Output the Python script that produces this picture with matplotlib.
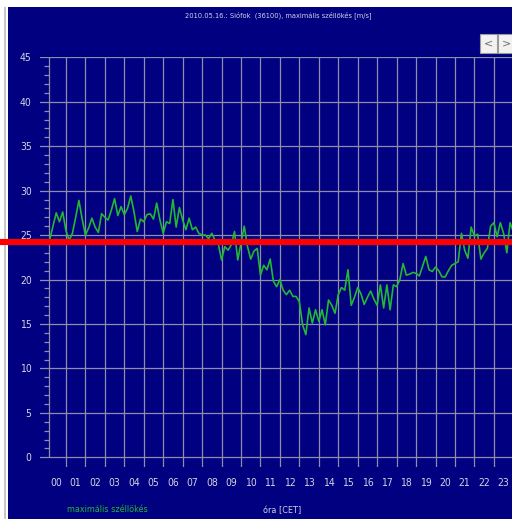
import matplotlib.pyplot as plt
from matplotlib.patches import Rectangle

# 10-minute maximum wind gust values [m/s], 00:10 .. 24:00 CET
gust = [
    24.5, 26.0, 27.5, 26.5, 27.6, 25.5, 24.4, 25.2, 27.0, 28.9, 26.8, 25.0,
    25.8, 26.9, 25.9, 25.3, 27.4, 27.0, 26.7, 27.8, 29.1, 27.2, 28.2, 27.3,
    28.0, 29.4, 27.6, 25.4, 26.8, 26.5, 27.3, 27.4, 26.8, 28.6, 26.7, 25.2,
    26.5, 26.3, 29.0, 25.9, 28.1, 26.7, 25.6, 26.9, 25.6, 25.9, 25.2, 25.0,
    25.0, 24.6, 25.2, 24.4, 24.0, 22.2, 23.7, 23.3, 23.9, 25.4, 22.2, 24.1,
    26.0, 23.7, 22.3, 23.2, 23.5, 20.5, 21.6, 21.1, 22.3, 19.8, 19.2, 20.0,
    18.8, 18.3, 18.8, 18.1, 18.1, 17.5, 14.9, 13.8, 16.8, 15.1, 16.6, 15.3,
    16.6, 14.9, 17.7, 17.1, 16.2, 18.3, 19.1, 18.8, 21.1, 17.1, 18.0, 19.1,
    18.4, 17.2, 18.0, 18.7, 17.8, 17.1, 19.4, 16.8, 19.4, 16.6, 19.4, 19.2,
    20.0, 21.8, 20.5, 20.6, 20.8, 20.7, 20.4, 21.5, 22.6, 21.1, 20.9, 21.4,
    21.0, 20.3, 20.3, 21.0, 21.6, 21.8, 22.0, 25.2, 23.3, 22.4, 25.9, 24.9,
    25.1, 22.3, 23.0, 23.5, 26.0, 26.4, 24.8, 26.4, 25.2, 23.0, 26.4, 25.4,
]
times = [(k + 1) / 6 for k in range(len(gust))]
hours = list(range(24))
hour_labels = [f"{h:02d}" for h in hours]
y_ticks = list(range(0, 50, 5))
threshold = 24.2

title = "2010.05.16.: Siófok  (36100), maximális széllökés [m/s]"
series_name = "maximális széllökés"
x_title = "óra [CET]"

BG = "#000080"
GRID = "#8e8eaa"
TXT = "#d4d4e4"
GREEN = "#22b832"
FONT = dict(family=["Liberation Sans Narrow", "DejaVu Sans"], stretch="condensed")

W, H = 512, 519
fig = plt.figure(figsize=(W / 100, H / 100), dpi=100, facecolor="white")

# navy panel behind everything, white strip on top and left
fig.add_artist(Rectangle((8 / W, 0), 1, 1 - 7 / H, transform=fig.transFigure,
                         facecolor=BG, edgecolor="none", zorder=0))
fig.add_artist(Rectangle((4 / W, 0), 1.5 / W, 1 - 7 / H, transform=fig.transFigure,
                         facecolor="#c8c8c8", edgecolor="none", zorder=0))

ax = fig.add_axes([40 / W, (H - 467) / H, 472 / W, (467 - 57.3) / H])
ax.set_facecolor("none")
for s in ax.spines.values():
    s.set_visible(False)
ax.set_xlim(-0.334, 23.933)
ax.set_ylim(-1.09, 45)

# grid: horizontal every 5 m/s, vertical at hour boundaries
for v in y_ticks:
    ax.axhline(v, color=GRID, lw=0.9, zorder=1)
ax.vlines(hours[1:] + [24], -1.09, 45, color=GRID, lw=0.9, zorder=1)

# y axis with 1 m/s minor ticks
ax.vlines(0.13, 0, 45, color=GRID, lw=0.9, zorder=1)
minor = [v for v in range(1, 45) if v % 5]
ax.hlines(minor, -0.13, 0.13, color=GRID, lw=0.9, zorder=1)

ax.plot(times, gust, color=GREEN, lw=1.2, zorder=3)
ax.axhline(threshold, xmin=-0.09, xmax=1, color="#ff0000", lw=4.4,
           zorder=4, clip_on=False)

ax.set_yticks(y_ticks)
ax.set_yticklabels([str(v) for v in y_ticks], color=TXT, fontsize=7.5, **FONT)
ax.set_xticks([h + 0.5 for h in hours])
ax.set_xticklabels(hour_labels, color=TXT, fontsize=7.5, **FONT)
ax.tick_params(axis="y", length=0, pad=6)
ax.tick_params(axis="x", length=0, pad=8)

fig.text(278 / W, 1 - 15 / H, title, color=TXT, fontsize=5.3, ha="center",
         va="center", **FONT)
fig.text(107 / W, 1 - 510 / H, series_name, color=GREEN, fontsize=6.5,
         ha="center", va="center", **FONT)
fig.text(282 / W, 1 - 511 / H, x_title, color=TXT, fontsize=6.5, ha="center",
         va="center", **FONT)

# scroll buttons in the top right corner
for x0, label in [(480, "<"), (498, ">")]:
    fig.add_artist(Rectangle((x0 / W, 1 - 53 / H), 17 / W, 19 / H,
                             transform=fig.transFigure, facecolor="#f2f2f2",
                             edgecolor="#9a9a9a", lw=0.8, zorder=5))
    fig.text((x0 + 8.5) / W, 1 - 43.5 / H, label, color="#707070",
             fontsize=8, ha="center", va="center", zorder=6)

fig.savefig("out.png", dpi=100, facecolor=fig.get_facecolor())
